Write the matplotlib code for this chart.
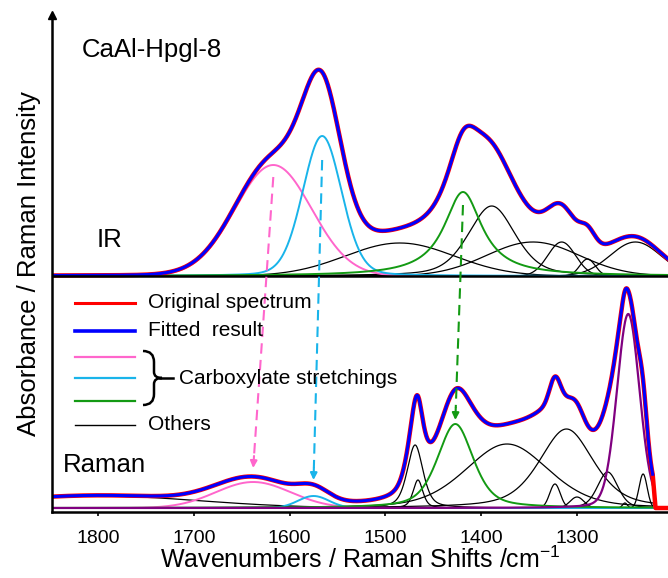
import numpy as np
import matplotlib.pyplot as plt
from matplotlib.path import Path
from matplotlib.patches import PathPatch

plt.rcParams['font.family'] = ['Liberation Sans', 'DejaVu Sans']

# peak parameters: centre (cm-1), height, FWHM (cm-1), Lorentzian fraction
ir_carbox_center = [1617, 1566, 1419]
ir_carbox_height = [111, 140, 84]
ir_carbox_fwhm = [94, 48, 48]
ir_carbox_eta = [0.0, 0.15, 1.0]

ir_other_center = [1485, 1389, 1346, 1316, 1289, 1239]
ir_other_height = [33, 70, 34, 34, 17, 34]
ir_other_fwhm = [134, 58, 114, 34, 19, 62]
ir_other_eta = [0.0, 0.4, 0.0, 0.0, 0.0, 0.0]

raman_carbox_center = [1638, 1575, 1427]
raman_carbox_height = [26, 12, 84]
raman_carbox_fwhm = [92, 38, 44]
raman_carbox_eta = [0.0, 0.0, 0.5]

raman_other_center = [1800, 1469, 1466, 1373, 1311, 1323, 1300, 1268, 1250, 1231]
raman_other_height = [12, 63, 28, 64, 79, 24, 11, 36, 5, 34]
raman_other_fwhm = [250, 19.5, 12, 102, 67, 13, 17, 25, 6, 10]
raman_other_eta = [0.0, 0.5, 0.5, 0.3, 0.5, 0.0, 0.0, 0.3, 0.0, 0.0]

raman_main_center = 1246.5
raman_main_height = 194
raman_main_fwhm = 28
raman_main_eta = 0.15

raman_end = 1221          # last point of the fitted Raman range
ir_offset = 236
raman_offset = 4

# dashed arrows IR -> Raman (start / tip heights)
arrow_top = [335, 352, 307]
arrow_tip = [44, 32, 92]

carbox_colors = ['#FF66CC', '#19B4EA', '#139A13']
purple = '#800080'

xticks = [1800, 1700, 1600, 1500, 1400, 1300]


def pvoigt(x, c, h, w, eta=0.0):
    d = (x - c) / w
    g = np.exp(-4 * np.log(2) * d ** 2)
    l = 1.0 / (1 + 4 * d ** 2)
    return h * (eta * l + (1 - eta) * g)


x_ir = np.linspace(1848, 1205, 1500)
x_ra = np.linspace(1848, raman_end, 1500)

ir_carbox = [pvoigt(x_ir, c, h, w, e) for c, h, w, e in
             zip(ir_carbox_center, ir_carbox_height, ir_carbox_fwhm, ir_carbox_eta)]
ir_other = [pvoigt(x_ir, c, h, w, e) for c, h, w, e in
            zip(ir_other_center, ir_other_height, ir_other_fwhm, ir_other_eta)]
ir_fit = np.sum(ir_carbox + ir_other, axis=0)

ra_carbox = [pvoigt(x_ra, c, h, w, e) for c, h, w, e in
             zip(raman_carbox_center, raman_carbox_height, raman_carbox_fwhm, raman_carbox_eta)]
ra_other = [pvoigt(x_ra, c, h, w, e) for c, h, w, e in
            zip(raman_other_center, raman_other_height, raman_other_fwhm, raman_other_eta)]
ra_main = pvoigt(x_ra, raman_main_center, raman_main_height, raman_main_fwhm,
                 raman_main_eta)
ra_fit = np.sum(ra_carbox + ra_other + [ra_main], axis=0)

fig = plt.figure(figsize=(6.68, 5.78), dpi=100)
ax = fig.add_axes([52 / 668, 66 / 578, 616 / 668, 497 / 578])
ax.set_xlim(1848, 1205)
ax.set_ylim(0, 497)

# IR block
for comp in ir_other:
    ax.plot(x_ir, comp + ir_offset, color='k', lw=0.9)
for comp, col in zip(ir_carbox, carbox_colors):
    ax.plot(x_ir, comp + ir_offset, color=col, lw=1.4)
ax.plot(x_ir, ir_fit + ir_offset, color='#FF0000', lw=3.2)
ax.plot(x_ir, ir_fit + ir_offset, color='#0000FF', lw=2.2)
ax.axhline(ir_offset, color='k', lw=1.8)

# Raman block
for comp in ra_other:
    ax.plot(x_ra, comp + raman_offset, color='k', lw=0.9)
for comp, col in zip(ra_carbox, carbox_colors):
    ax.plot(x_ra, comp + raman_offset, color=col, lw=1.4)
ax.plot(x_ra, ra_main + raman_offset, color=purple, lw=1.6)
x_orig = np.append(x_ra, [raman_end - 3, 1205])
y_orig = np.append(ra_fit, [0, 0])
ax.plot(x_orig, y_orig + raman_offset, color='#FF0000', lw=3.2)
ax.plot(x_ra, ra_fit + raman_offset, color='#0000FF', lw=2.2)

# arrows linking the carboxylate bands
for i, col in enumerate(carbox_colors):
    x0 = ir_carbox_center[i]
    x1 = raman_carbox_center[i]
    y0, y1 = arrow_top[i], arrow_tip[i]
    xh = x1 + (x0 - x1) * 12 / (y0 - y1)
    ax.plot([x0, xh], [y0, y1 + 12], color=col, lw=1.5, ls=(0, (5, 3)))
    ax.annotate('', xy=(x1, y1), xytext=(xh, y1 + 12),
                arrowprops=dict(arrowstyle='-|>', color=col, lw=1.5,
                                mutation_scale=10, shrinkA=0, shrinkB=0))


# legend drawn by hand
def px(x, y):
    return (x - 52) / 616, (512 - y) / 497


legend_rows = [(303, '#FF0000', 2.2, 'Original spectrum'),
               (331, '#0000FF', 2.6, 'Fitted  result'),
               (357, carbox_colors[0], 1.6, None),
               (378, carbox_colors[1], 1.6, None),
               (401, carbox_colors[2], 1.6, None),
               (425, 'k', 1.0, 'Others')]
for yp, col, lw, label in legend_rows:
    (xa, ya), (xb, _) = px(75, yp), px(135, yp)
    ax.plot([xa, xb], [ya, ya], color=col, lw=lw, transform=ax.transAxes)
    if label:
        ax.text(px(148, yp)[0], ya, label, transform=ax.transAxes,
                fontsize=15, va='center', ha='left')

# curly brace grouping the three carboxylate bands
brace_pts = [(143, 351), (154, 351), (154, 362), (154, 372), (154, 378),
             (162, 378), (154, 378), (154, 384), (154, 394), (154, 405),
             (143, 405)]
codes = [Path.MOVETO, Path.CURVE3, Path.CURVE3, Path.LINETO, Path.CURVE3,
         Path.CURVE3, Path.CURVE3, Path.CURVE3, Path.LINETO, Path.CURVE3,
         Path.CURVE3]
verts = [px(a, b) for a, b in brace_pts]
ax.add_patch(PathPatch(Path(verts, codes), fill=False, lw=1.8, color='k',
                       transform=ax.transAxes))
ax.plot([px(160, 378)[0], px(173, 378)[0]], [px(0, 378)[1]] * 2,
        color='k', lw=1.8, transform=ax.transAxes)
ax.text(px(179, 378)[0], px(0, 378)[1], 'Carboxylate stretchings',
        transform=ax.transAxes, fontsize=15, va='center', ha='left')

# panel labels
ax.text(px(82, 50)[0], px(0, 50)[1], 'CaAl-Hpgl-8', transform=ax.transAxes,
        fontsize=18.5, va='center', ha='left')
ax.text(px(97, 240)[0], px(0, 240)[1], 'IR', transform=ax.transAxes,
        fontsize=18.5, va='center', ha='left')
ax.text(px(63, 465)[0], px(0, 465)[1], 'Raman', transform=ax.transAxes,
        fontsize=18.5, va='center', ha='left')

# axes styling
for side in ['top', 'right']:
    ax.spines[side].set_visible(False)
ax.spines['left'].set_linewidth(1.8)
ax.spines['bottom'].set_linewidth(1.8)
ax.plot(0, 1, marker='^', color='k', markersize=6, transform=ax.transAxes,
        clip_on=False)
ax.set_yticks([])
ax.set_xticks(xticks)
ax.tick_params(axis='x', length=3, width=1.2, labelsize=14, pad=10)
ax.set_xlabel('Wavenumbers / Raman Shifts /cm$^{\\mathregular{-1}}$',
              fontsize=18, labelpad=0)
ax.set_ylabel('Absorbance / Raman Intensity', fontsize=18.5, labelpad=8)

fig.savefig('out.png', dpi=100)
